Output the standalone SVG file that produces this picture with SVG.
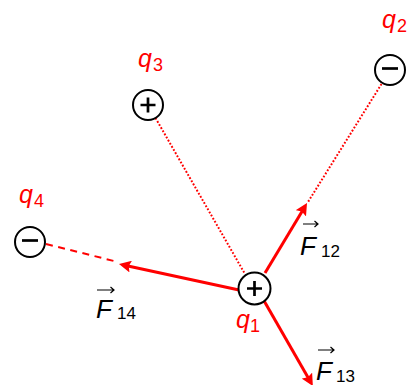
<svg xmlns="http://www.w3.org/2000/svg" width="409" height="385" viewBox="0 0 409 385">
  <defs>
    <style>
      .charge { fill: #ffffff; stroke: #000000; stroke-width: 2; }
      .sign { stroke: #000000; stroke-width: 2.7; fill: none; stroke-linecap: butt; }
      .qlab { font-family: "Liberation Sans", Arial, sans-serif; font-style: italic; font-size: 25px; fill: #ff0000; }
      .qsub { font-family: "Liberation Sans", Arial, sans-serif; font-size: 18px; fill: #ff0000; }
      .flab { font-family: "Liberation Sans", Arial, sans-serif; font-style: italic; font-size: 26px; fill: #000000; }
      .fsub { font-family: "Liberation Sans", Arial, sans-serif; font-size: 17px; fill: #000000; }
      .vec { stroke: #000000; stroke-width: 1.2; fill: none; }
      .force { stroke: #ff0000; stroke-width: 3; fill: none; }
      .dotted { stroke: #ff0000; stroke-width: 2; stroke-dasharray: 1.8 1.8; fill: none; }
      .dashed { stroke: #ff0000; stroke-width: 2; stroke-dasharray: 7 5.5; fill: none; }
    </style>
    <marker id="head" viewBox="0 0 12 12" markerWidth="12" markerHeight="12" refX="4" refY="6" orient="auto" markerUnits="userSpaceOnUse">
      <path d="M0,0 L12,6 L0,12 L2,6 Z" fill="#ff0000"/>
    </marker>
  </defs>

  <g id="connectors">
    <line class="dotted" x1="381.5" y1="84" x2="308" y2="202"/>
    <line class="dotted" x1="155.5" y1="118" x2="245" y2="274"/>
    <line class="dashed" x1="46" y1="244" x2="118" y2="262"/>
    <line class="force" x1="265" y1="273" x2="302.9" y2="209.9" marker-end="url(#head)"/>
    <line class="force" x1="239" y1="290" x2="126.8" y2="265.7" marker-end="url(#head)"/>
    <line class="force" x1="263" y1="299" x2="308.9" y2="379.1" marker-end="url(#head)"/>
  </g>

  <g id="q1">
    <circle class="charge" cx="254.5" cy="288.5" r="16"/>
    <path class="sign" d="M247,288.5 H262 M254.5,281 V296"/>
    <text class="qlab" x="236" y="328">q</text>
    <text class="qsub" x="250" y="332">1</text>
  </g>

  <g id="q2">
    <circle class="charge" cx="390" cy="70" r="15"/>
    <path class="sign" d="M382,68.5 H398"/>
    <text class="qlab" x="382" y="28">q</text>
    <text class="qsub" x="397" y="32">2</text>
  </g>

  <g id="q3">
    <circle class="charge" cx="148" cy="105" r="15"/>
    <path class="sign" d="M140.5,105 H155.5 M148,97.5 V112.5"/>
    <text class="qlab" x="138" y="67">q</text>
    <text class="qsub" x="153" y="71">3</text>
  </g>

  <g id="q4">
    <circle class="charge" cx="30" cy="242" r="15"/>
    <path class="sign" d="M22,240.5 H38"/>
    <text class="qlab" x="19" y="203">q</text>
    <text class="qsub" x="34" y="207">4</text>
  </g>

  <g id="F12">
    <path class="vec" d="M303,224 H318 M314.5,221 L318,224 L314.5,227"/>
    <text class="flab" x="300" y="255">F</text>
    <text class="fsub" x="321" y="257">12</text>
  </g>

  <g id="F14">
    <path class="vec" d="M97,290 H114 M110.5,287 L114,290 L110.5,293"/>
    <text class="flab" x="96" y="318">F</text>
    <text class="fsub" x="117" y="319">14</text>
  </g>

  <g id="F13">
    <path class="vec" d="M318,350 H334 M330.5,347 L334,350 L330.5,353"/>
    <text class="flab" x="316" y="380">F</text>
    <text class="fsub" x="336" y="382">13</text>
  </g>
</svg>
